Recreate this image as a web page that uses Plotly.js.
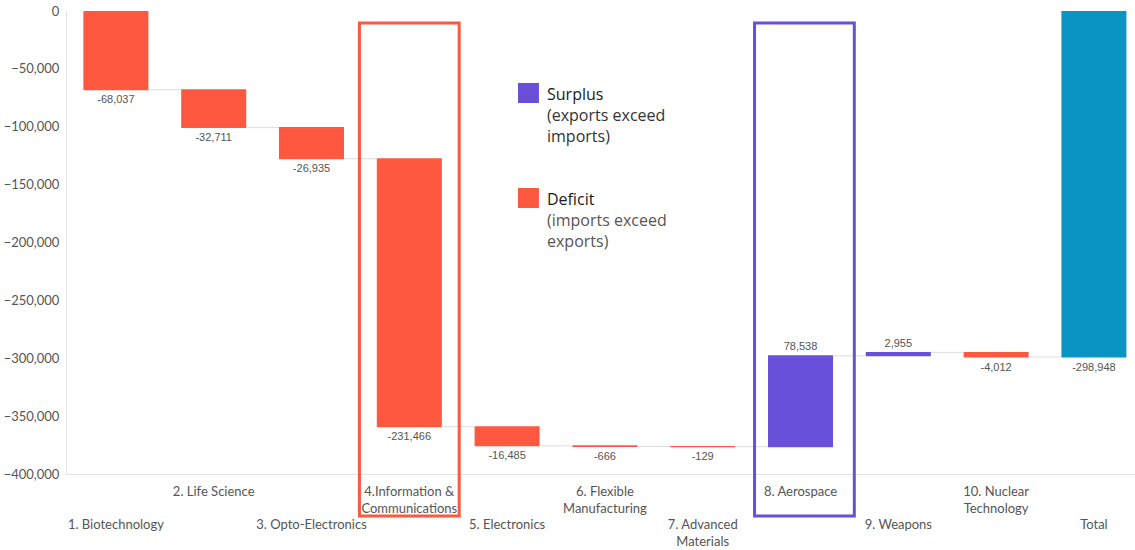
<!DOCTYPE html>
<html>
<head>
<meta charset="utf-8">
<script src="https://cdn.plot.ly/plotly-3.0.1.min.js"></script>
<style>
html,body{margin:0;padding:0;background:#fff;}
#chart{width:1135px;height:550px;}
</style>
</head>
<body>
<div id="chart"></div>
<script>
// ---- data ----
var categories = ["Biotechnology","Life Science","Opto-Electronics","Information & Communications","Electronics","Flexible Manufacturing","Advanced Materials","Aerospace","Weapons","Nuclear Technology","Total"];
var values = [-68037, -32711, -26935, -231466, -16485, -666, -129, 78538, 2955, -4012, -298948];
var measures = ["relative","relative","relative","relative","relative","relative","relative","relative","relative","relative","total"];
var tickLabels = [
  "<br><br>1. Biotechnology",
  "2. Life Science",
  "<br><br>3. Opto-Electronics",
  "4.Information &<br>Communications",
  "<br><br>5. Electronics",
  "6. Flexible<br>Manufacturing",
  "<br><br>7. Advanced<br>Materials",
  "8. Aerospace",
  "<br><br>9. Weapons",
  "10. Nuclear<br>Technology",
  "<br><br>Total"
];
var yTickVals = [0, -50000, -100000, -150000, -200000, -250000, -300000, -350000, -400000];
var legendItems = ["Surplus", "Deficit"];
var legendNotes = ["(exports exceed<br>imports)", "(imports exceed<br>exports)"];

var RED = "#FF5841", PURPLE = "#6A4FD9", BLUE = "#0994C3";

var trace = {
  type: "waterfall",
  x: categories,
  y: values,
  measure: measures,
  text: values.map(function(v){ return v.toLocaleString("en-US"); }),
  textposition: "outside",
  textfont: {family: "Liberation Sans, Arial, sans-serif", size: 11, color: "#555"},
  cliponaxis: false,
  decreasing: {marker: {color: RED, line: {width: 0}}},
  increasing: {marker: {color: PURPLE, line: {width: 0}}},
  totals: {marker: {color: BLUE, line: {width: 0}}},
  connector: {mode: "between", line: {color: "#dddddd", width: 1}},
  hoverinfo: "skip",
  showlegend: false
};

var shapes = [
  {type: "rect", xref: "x", yref: "paper", x0: 2.49, x1: 3.51, y0: -0.0907, y1: 0.974,
   line: {color: RED, width: 3}, fillcolor: "rgba(0,0,0,0)"},
  {type: "rect", xref: "x", yref: "paper", x0: 6.53, x1: 7.55, y0: -0.0907, y1: 0.974,
   line: {color: PURPLE, width: 3}, fillcolor: "rgba(0,0,0,0)"},
  {type: "rect", xref: "paper", yref: "paper", x0: 0.4223, x1: 0.4419, y0: 0.8013, y1: 0.8445,
   line: {width: 0}, fillcolor: PURPLE},
  {type: "rect", xref: "paper", yref: "paper", x0: 0.4223, x1: 0.4419, y0: 0.5745, y1: 0.6177,
   line: {width: 0}, fillcolor: RED}
];

var annotations = [
  {xref: "paper", yref: "paper", x: 0.4475, y: 0.848, xanchor: "left", yanchor: "top", align: "left",
   showarrow: false, font: {family: "Open Sans, sans-serif", size: 16, color: "#1a1a1a"},
   text: legendItems[0] + "<br><span style='color:#333'>" + legendNotes[0] + "</span>"},
  {xref: "paper", yref: "paper", x: 0.4475, y: 0.621, xanchor: "left", yanchor: "top", align: "left",
   showarrow: false, font: {family: "Open Sans, sans-serif", size: 16, color: "#1a1a1a"},
   text: legendItems[1] + "<br><span style='color:#555'>" + legendNotes[1] + "</span>"}
];

var layout = {
  width: 1135, height: 550,
  margin: {l: 67, r: 0, t: 11, b: 76},
  paper_bgcolor: "#fff", plot_bgcolor: "#fff",
  waterfallgap: 0.335,
  showlegend: false,
  font: {family: "Lato, sans-serif", size: 13, color: "#555"},
  xaxis: {
    type: "category",
    range: [-0.5, 10.42],
    tickmode: "array", tickvals: categories, ticktext: tickLabels,
    showline: true, linecolor: "#e3e3e3", linewidth: 1,
    showgrid: false, zeroline: false, ticks: "",
    ticklabelstandoff: 5,
    tickfont: {family: "Lato, sans-serif", size: 13, color: "#555"},
    tickangle: 0, automargin: false
  },
  yaxis: {
    range: [-400000, 0],
    tickmode: "array", tickvals: yTickVals,
    tickformat: ",d",
    showline: true, linecolor: "#e3e3e3", linewidth: 1,
    showgrid: false, zeroline: false, ticks: "",
    ticklabelstandoff: 4,
    tickfont: {family: "Lato, sans-serif", size: 13, color: "#555"},
    automargin: false
  },
  shapes: shapes,
  annotations: annotations
};

Plotly.newPlot("chart", [trace], layout, {displayModeBar: false, staticPlot: true});
</script>
</body>
</html>
